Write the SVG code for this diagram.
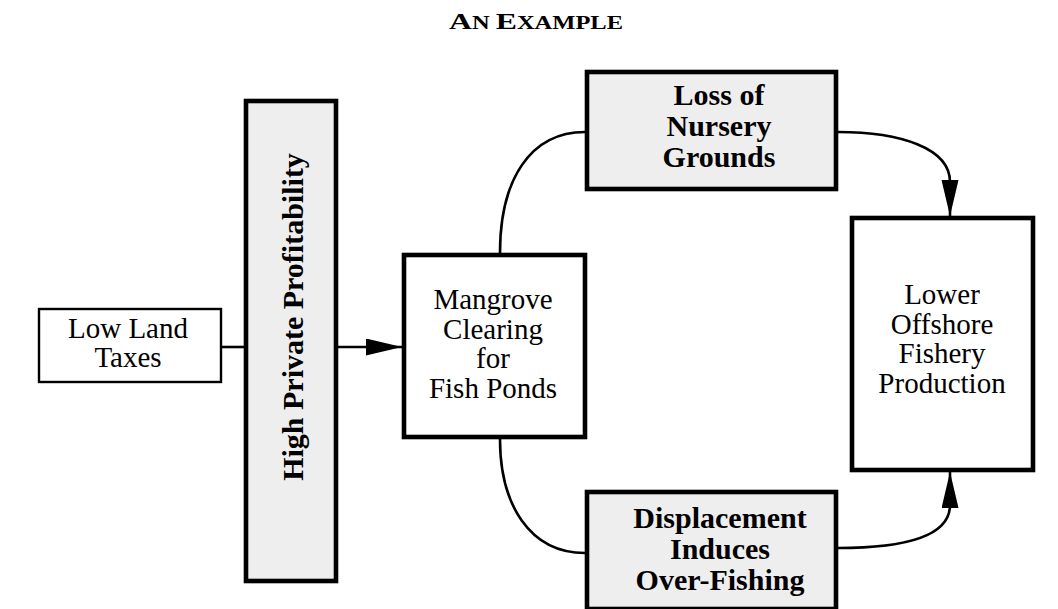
<svg xmlns="http://www.w3.org/2000/svg" width="1058" height="609" viewBox="0 0 1058 609">
<defs>
<style>
text{font-family:"Liberation Serif",serif;font-size:29px;fill:#000;text-anchor:middle}
.b{font-weight:bold;font-size:30px}
.thin{fill:#fff;stroke:#000;stroke-width:2.4}
.thick{fill:#fff;stroke:#000;stroke-width:4.6}
.gray{fill:#eeeeee}
.c{fill:none;stroke:#000;stroke-width:2.6}
</style>
<marker id="ah" markerUnits="userSpaceOnUse" markerWidth="40" markerHeight="20" refX="36" refY="8.5" orient="auto">
<path d="M0,0 L36,8.5 L0,17 z" fill="#000"/>
</marker>
</defs>
<rect width="1058" height="609" fill="#fff"/>
<g id="title">
<text class="b" x="536" y="29" font-family="Liberation Serif, serif" textLength="174" lengthAdjust="spacingAndGlyphs"><tspan font-size="24">A</tspan><tspan font-size="18.5">N </tspan><tspan font-size="24">E</tspan><tspan font-size="18.5">XAMPLE</tspan></text>
</g>
<g id="connectors">
<path class="c" d="M222,347 L244,347"/>
<path class="c" d="M338,347 L402,347" marker-end="url(#ah)"/>
<path class="c" d="M500,253 C500,180 530,132 585,132"/>
<path class="c" d="M500,439 C500,505 530,553 585,553"/>
<path class="c" d="M838,132 C900,132 950,148 950,182 L950,216" marker-end="url(#ah)"/>
<path class="c" d="M838,548 C895,548 950,540 950,505 L950,472" marker-end="url(#ah)"/>
</g>
<g id="low-land-taxes" font-family="Liberation Serif, serif">
<rect class="thin" x="39" y="309" width="182" height="73"/>
<text x="128" y="338">Low Land</text>
<text x="128" y="367">Taxes</text>
</g>
<g id="high-private-profitability" font-family="Liberation Serif, serif">
<rect class="thick gray" x="246" y="101" width="90" height="480"/>
<text class="b" transform="translate(303,317) rotate(-90)">High Private Profitability</text>
</g>
<g id="mangrove-clearing" font-family="Liberation Serif, serif">
<rect class="thick" x="404" y="255" width="181" height="182"/>
<text x="493" y="309">Mangrove</text>
<text x="493" y="339">Clearing</text>
<text x="493" y="368">for</text>
<text x="493" y="398">Fish Ponds</text>
</g>
<g id="loss-of-nursery-grounds" font-family="Liberation Serif, serif">
<rect class="thick gray" x="587" y="72" width="249" height="117"/>
<text class="b" x="719" y="105">Loss of</text>
<text class="b" x="719" y="136">Nursery</text>
<text class="b" x="719" y="167">Grounds</text>
</g>
<g id="displacement-overfishing" font-family="Liberation Serif, serif">
<rect class="thick gray" x="587" y="492" width="249" height="117"/>
<text class="b" x="720" y="528">Displacement</text>
<text class="b" x="720" y="559">Induces</text>
<text class="b" x="720" y="590">Over-Fishing</text>
</g>
<g id="lower-offshore-fishery-production" font-family="Liberation Serif, serif">
<rect class="thick" x="852" y="218" width="181" height="252"/>
<text x="942" y="304">Lower</text>
<text x="942" y="334">Offshore</text>
<text x="942" y="363">Fishery</text>
<text x="942" y="393">Production</text>
</g>
</svg>
